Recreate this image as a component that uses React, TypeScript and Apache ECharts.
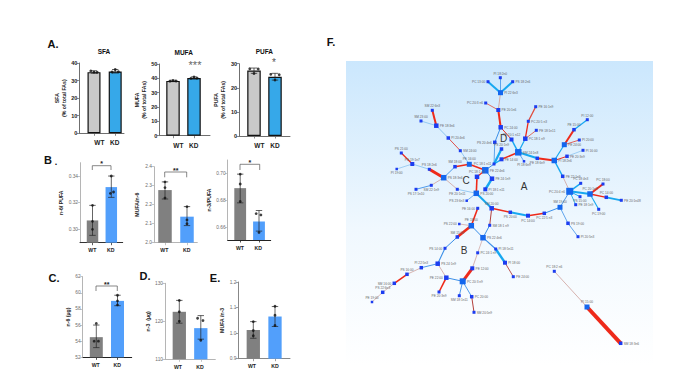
import React, { useEffect, useRef } from "react";
import * as echarts from "echarts";

const categories = ["WT", "KD"];

// ---- Bar panel values: [WT, KD]
const sfaMeans = [34.8, 35.2];
const sfaErrors = [[34.2, 35.6], [34.3, 36.3]];
const sfaPoints = [[0.85, 35.5], [1, 34.8], [1.15, 34.7], [1.85, 34.9], [2, 36.3], [2.15, 35]];
const sfaTicks = [0, 10, 20, 30, 40];

const mufaMeans = [38.2, 40.2];
const mufaErrors = [[37.7, 38.7], [39.6, 41]];
const mufaPoints = [[0.85, 38], [1, 38.5], [1.15, 38.1], [1.85, 40], [2, 41], [2.15, 40.1]];
const mufaTicks = [0, 10, 20, 30, 40, 50];

const pufaMeans = [27.2, 24.6];
const pufaErrors = [[26, 28.2], [23.2, 26]];
const pufaPoints = [[0.8, 27.9], [1, 25.9], [1.2, 27.8], [1.8, 25.6], [2, 23.2], [2.2, 25.4]];
const pufaTicks = [0, 10, 20, 30];

const n6PufaMeans = [0.3067, 0.3317];
const n6PufaErrors = [[0.2955, 0.318], [0.324, 0.34]];
const n6PufaPoints = [[1, 0.318], [1, 0.306], [1, 0.3], [2, 0.34], [1.95, 0.327], [2.12, 0.328]];
const n6PufaTicks = [0.3, 0.32, 0.34];

const mufaN6Means = [2.277, 2.137];
const mufaN6Errors = [[2.23, 2.32], [2.09, 2.19]];
const mufaN6Points = [[1, 2.32], [1, 2.29], [1, 2.235], [2, 2.19], [2, 2.12], [2, 2.1]];
const mufaN6Ticks = [2.0, 2.1, 2.2, 2.3, 2.4];

const n3PufaMeans = [0.6889, 0.6642];
const n3PufaErrors = [[0.678, 0.6993], [0.657, 0.6723]];
const n3PufaPoints = [[1, 0.6993], [1, 0.692], [1, 0.679], [1.85, 0.67], [2.1, 0.669], [2, 0.656]];
const n3PufaTicks = [0.66, 0.68, 0.7];

const n6Means = [54.5, 59];
const n6Errors = [[53.2, 56], [58.4, 59.7]];
const n6Points = [[0.9, 54], [1.1, 54], [1, 56.2], [2, 59.7], [2, 59], [2, 58.5]];
const n6Ticks = [52, 54, 56, 58, 60, 62];

const n3Means = [122.5, 118.2];
const n3Errors = [[119.5, 125.5], [115.3, 121.5]];
const n3Points = [[1, 125.5], [1, 122.5], [1, 120], [1.85, 120.8], [2.1, 120.2], [2, 115]];
const n3Ticks = [110, 120, 130];

const mufaN3Means = [1.012, 1.065];
const mufaN3Errors = [[0.98, 1.045], [1.026, 1.104]];
const mufaN3Points = [[1, 1.045], [1, 1.01], [1, 0.99], [2, 1.105], [2, 1.07], [2, 1.03]];
const mufaN3Ticks = [0.9, 1.0, 1.1, 1.2];

const FONT = '"Liberation Sans", Arial, sans-serif';

// ---- Network: [name, x, y, size, label position]
const networkNodes: [string, number, number, number, string][] = [
  ["PC 13:00", 488, 81.7, 3, "left"],
  ["PI 18:2n0", 500.3, 77.7, 3, "top"],
  ["PI 22:6n3", 500.5, 92.7, 5, "right"],
  ["PS 18:2n6", 512.7, 81.7, 3, "right"],
  ["PC 20:3 n6", 485.7, 103, 3, "left"],
  ["PE 20:1n6", 498.3, 110, 4, "right"],
  ["PC 24:00", 500.7, 127.3, 4.5, "right"],
  ["PS 20:4n6", 494.8, 142.3, 3.5, "left"],
  ["PS 20:1n9", 501.5, 149, 3.5, "top"],
  ["PE 20:1 n12", 511.5, 139.5, 4, "top"],
  ["PE 14:00", 501.5, 159.3, 4, "right"],
  ["PC 18:1 n11", 494, 164, 3, "left"],
  ["SM 22:6n3", 432.3, 110.3, 3, "top"],
  ["SM 23:00", 421, 121, 3, "top"],
  ["PE 18:3n6", 436.3, 125.7, 4.5, "right"],
  ["PI 20:4n6", 448.3, 138, 3.5, "right"],
  ["SM 24:00", 460.3, 150.7, 3, "right"],
  ["PE 16:00", 469.3, 164.3, 5, "top"],
  ["PS 21:00", 401.3, 153, 3, "top"],
  ["PE 19:1n7", 412.3, 164, 4, "top"],
  ["PE 16:1n9", 535.7, 106.7, 3, "right"],
  ["PC 20:5 n3", 528.3, 121.3, 3, "right"],
  ["PE 18:1n11", 536.3, 130.3, 3, "right"],
  ["PC 18:1 n9", 525.3, 138.7, 4.5, "right"],
  ["SM 24:1n8", 518.3, 152.3, 6.5, "right"],
  ["PI 18:6n9", 524, 161.3, 2.5, "bottom"],
  ["PE 18:6n9", 537.3, 158.3, 3.5, "bottom"],
  ["PI 18:2n6", 554.3, 160.5, 5.5, "right"],
  ["PE 24:00", 564.3, 144.7, 5, "right"],
  ["PE 15:00", 574, 129.7, 3.5, "top"],
  ["PI 12:00", 587.3, 119.7, 3, "top"],
  ["PI 20:00", 579.3, 140, 3, "right"],
  ["PI 16:00", 583, 150.3, 3, "right"],
  ["PE 20:3n9", 567, 156.3, 3.5, "right"],
  ["PI 19:00", 396.7, 169, 2.5, "bottom"],
  ["PS 18:2n6 ", 429.3, 169.3, 3, "top"],
  ["PS 18:3n6", 443.7, 177.7, 5.5, "right"],
  ["SM 18:00", 455, 166.7, 3.5, "top"],
  ["PC 18:1 n3", 477, 176.8, 4.5, "top"],
  ["PE 22:4n6", 485.3, 170.3, 6.5, "right"],
  ["PE 24:1n9", 492, 178.7, 4.5, "right"],
  ["PI 18:1 n11", 485.3, 189.3, 4, "right"],
  ["PS 20:00", 476.3, 193.3, 5.5, "right"],
  ["SM 22:1n9", 431.3, 185.3, 3, "bottom"],
  ["PS 17:1n10", 416, 189.3, 3, "bottom"],
  ["PE 20:1n11", 457.3, 189.3, 3, "bottom"],
  ["PS 23:6n3", 466.7, 200.7, 2.5, "left"],
  ["PE 16:00 ", 477.7, 208.3, 3, "left"],
  ["SM 20:00", 491.7, 208.3, 4.5, "top"],
  ["PE 18:00", 471.3, 225.7, 5.5, "top"],
  ["PS 22:00", 459.3, 224, 2.5, "left"],
  ["SM 18:1 n9", 489.7, 225.3, 3, "right"],
  ["PS 22:4n6", 483, 237.7, 5.5, "right"],
  ["SM 15:00", 457.3, 237, 3.5, "top"],
  ["PS 14:00", 445, 248.3, 3, "left"],
  ["PI 18:5n11", 495.7, 249, 3, "right"],
  ["PS 24:1n9", 437.7, 263.7, 4.5, "right"],
  ["PI 22:5n3", 421.3, 267.7, 3.5, "top"],
  ["PC 24:1 n9", 477.7, 252.8, 3, "right"],
  ["PE 12:00", 472.3, 268.3, 4, "right"],
  ["PS 20:00 ", 510.3, 212.3, 3.5, "bottom"],
  ["PC 14:00", 528, 215.7, 4, "bottom"],
  ["PC 22:5 n3", 544.3, 213.3, 3.5, "bottom"],
  ["SM 19:00", 560, 207.3, 5, "top"],
  ["PC 20:4 n6", 569.7, 191.3, 7, "left"],
  ["PE 22:1n9", 562.7, 176.3, 3.5, "right"],
  ["PC 18:4n3", 580.7, 183.3, 3, "top"],
  ["PC 18:00", 603, 184, 3, "top"],
  ["PC 20:1n9", 590, 194, 5.5, "top"],
  ["PC 14:00 ", 606.3, 197.3, 3.5, "top"],
  ["PE 20:1n48", 621.3, 200.3, 3, "right"],
  ["PS 15:00", 580, 196.7, 3, "bottom"],
  ["PE 18:1n9", 575.7, 204.7, 3, "right"],
  ["PC 19:00", 598.7, 209.3, 3, "bottom"],
  ["PS 19:00", 568, 223.3, 3.5, "right"],
  ["PI 20:5n3", 578, 236.7, 3, "right"],
  ["PI 18:00", 505, 262.7, 4, "right"],
  ["PE 24:00 ", 513.3, 276.7, 3, "right"],
  ["PE 19:00", 372, 302, 2.5, "top"],
  ["PS 22:6n3", 382.7, 292.3, 3.5, "top"],
  ["SM 16:00", 394.3, 283.3, 3.5, "left"],
  ["PS 16:00", 407, 274.3, 3.5, "top"],
  ["PE 22:00", 446.3, 277.7, 4.5, "left"],
  ["PE 20:3n9 ", 439, 292, 3, "bottom"],
  ["PC 20:3 n9", 462.7, 281.3, 6, "right"],
  ["SM 18:1n11", 459.3, 295.7, 3, "bottom"],
  ["PC 20:00", 471.7, 296.7, 3.5, "right"],
  ["SM 20:5n9", 474, 312.3, 3, "right"],
  ["PC 18:2 n6", 554.3, 271.3, 3, "top"],
  ["PI 15:00", 587, 307, 5, "top"],
  ["SM 18:3n6", 620.7, 343.3, 3.5, "right"],
];

const R = "#ee2a1a", C = "#17a8f0", B = "#3b8fe8", L = "#8cc4f0", P = "#d2aaa6", D = "#b3403c";

// ---- Network edges: [source, target, colour, width]
const networkLinks: [string, string, string, number][] = [
  ["PC 13:00", "PI 22:6n3", C, 2], ["PI 18:2n0", "PI 22:6n3", B, 0.8], ["PS 18:2n6", "PI 22:6n3", C, 2],
  ["PI 22:6n3", "PE 20:1n6", P, 1], ["PC 20:3 n6", "PE 20:1n6", "#e0604f", 0.9], ["PE 20:1n6", "PC 24:00", R, 2],
  ["PC 24:00", "PS 20:4n6", B, 1], ["PC 24:00", "PE 20:1 n12", R, 1], ["PS 20:4n6", "PC 18:1 n11", B, 0.8],
  ["PS 20:1n9", "PC 18:1 n11", C, 2.2], ["PE 14:00", "PC 18:1 n11", C, 1.4], ["PC 18:1 n11", "PE 22:4n6", B, 1],
  ["PE 14:00", "SM 24:1n8", R, 1.5], ["PE 20:1 n12", "SM 24:1n8", C, 1.5], ["SM 24:1n8", "PC 18:1 n9", C, 1.2],
  ["PC 18:1 n9", "PC 20:5 n3", R, 1.3], ["PC 20:5 n3", "PE 16:1n9", "#e04a3a", 1.3], ["PC 18:1 n9", "PE 18:1n11", "#e0604f", 0.9],
  ["SM 24:1n8", "PI 18:6n9", B, 0.8], ["SM 24:1n8", "PE 18:6n9", C, 2], ["PE 18:6n9", "PI 18:2n6", R, 2],
  ["PI 18:2n6", "PE 24:00", C, 1.2], ["PE 24:00", "PE 15:00", R, 2], ["PE 15:00", "PI 12:00", C, 1.3],
  ["PE 24:00", "PI 20:00", "#e0504a", 0.9], ["PI 18:2n6", "PE 20:3n9", R, 1], ["PE 20:3n9", "PI 16:00", L, 0.8],
  ["PI 18:2n6", "PE 22:1n9", C, 1.4], ["PE 22:1n9", "PC 20:4 n6", P, 0.9], ["PC 20:4 n6", "PC 18:4n3", C, 1.5],
  ["PC 20:4 n6", "PC 20:1n9", C, 2], ["PC 20:1n9", "PC 18:00", R, 2], ["PC 20:1n9", "PC 14:00 ", R, 1.3],
  ["PC 14:00 ", "PE 20:1n48", C, 1.8], ["PC 20:1n9", "PC 19:00", C, 1.1], ["PC 20:4 n6", "PS 15:00", C, 1],
  ["PC 20:4 n6", "PE 18:1n9", C, 0.9], ["PC 20:4 n6", "SM 19:00", B, 0.9], ["SM 19:00", "PC 22:5 n3", B, 1],
  ["PC 22:5 n3", "PC 14:00", R, 1.6], ["PC 14:00", "PS 20:00 ", C, 2], ["PS 20:00 ", "SM 20:00", R, 1.5],
  ["SM 19:00", "PS 19:00", B, 0.8], ["PS 19:00", "PI 20:5n3", B, 0.8],
  ["PE 22:4n6", "PE 24:1n9", B, 1], ["PE 24:1n9", "PI 18:1 n11", C, 2.5], ["PE 22:4n6", "PC 18:1 n3", R, 1.2],
  ["PC 18:1 n3", "PS 20:00", R, 1.6], ["PS 20:00", "SM 20:00", C, 2], ["PS 20:00", "PS 23:6n3", B, 0.7],
  ["PS 18:3n6", "SM 18:00", B, 0.9], ["SM 18:00", "PE 16:00", R, 1.5], ["PE 16:00", "PE 22:4n6", R, 1.5],
  ["PS 18:3n6", "PS 18:2n6 ", R, 3], ["PS 18:3n6", "SM 22:1n9", P, 0.9], ["SM 22:1n9", "PS 17:1n10", B, 0.9],
  ["PS 18:3n6", "PE 20:1n11", P, 0.9], ["PE 20:1n11", "PS 20:00", L, 0.9], ["SM 24:00", "PE 16:00", L, 0.9],
  ["PE 18:3n6", "SM 22:6n3", R, 2], ["PE 18:3n6", "SM 23:00", L, 0.9], ["PE 18:3n6", "PI 20:4n6", L, 1],
  ["PI 20:4n6", "SM 24:00", "#e0504a", 1], ["PE 19:1n7", "PS 21:00", R, 1.2], ["PE 19:1n7", "PS 18:2n6 ", L, 0.9],
  ["PE 19:1n7", "PI 19:00", L, 0.8],
  ["SM 20:00", "SM 18:1 n9", D, 1], ["SM 18:1 n9", "PS 22:4n6", B, 1], ["PS 22:4n6", "PE 18:00", B, 1],
  ["PE 18:00", "PE 16:00 ", R, 1.6], ["PE 18:00", "PS 22:00", P, 0.8], ["PE 18:00", "SM 15:00", R, 2.6],
  ["SM 15:00", "PS 14:00", B, 1], ["PS 14:00", "PS 24:1n9", B, 1.1], ["PS 22:4n6", "PI 18:5n11", B, 1.1],
  ["PI 18:5n11", "PI 18:00", C, 2.4], ["PI 18:00", "PE 24:00 ", D, 0.9], ["PS 22:4n6", "PC 24:1 n9", P, 0.8],
  ["PC 24:1 n9", "PE 12:00", P, 0.9], ["PS 24:1n9", "PI 22:5n3", B, 0.9], ["PI 22:5n3", "PS 16:00", P, 0.9],
  ["PS 16:00", "SM 16:00", R, 1.6], ["SM 16:00", "PS 22:6n3", P, 0.8], ["PS 22:6n3", "PE 19:00", P, 0.8],
  ["PS 24:1n9", "PE 22:00", P, 0.9], ["PE 22:00", "PE 20:3n9 ", R, 1.6], ["PE 22:00", "PC 20:3 n9", B, 1],
  ["PC 20:3 n9", "PE 12:00", R, 3], ["PC 20:3 n9", "SM 18:1n11", B, 0.9], ["PC 20:3 n9", "PC 20:00", B, 0.9],
  ["PC 20:00", "SM 20:5n9", D, 1], ["PC 18:2 n6", "PI 15:00", P, 0.9], ["PI 15:00", "SM 18:3n6", R, 4],
];

type Panel = {
  l: number; r: number; t: number; b: number; min: number; max: number; ticks: number[]; dec: number;
  c: number[]; labelX: number[]; barW: number; means: number[]; errors: number[][]; points: number[][];
  colors: string[]; border: boolean; axisColor: string; xColor: string; labelColor: string; labelSize: number;
  bold: boolean; name: string; gap: number; nameSize: number; nameColor: string; nameBold: boolean; margin: number; catSize: number;
};

const A = {
  colors: ["#c9c9c9", "#36a8e9"], border: true, axisColor: "#6f6f6f", xColor: "#6f6f6f", labelColor: "#222",
  labelSize: 5.5, bold: true, nameSize: 5.2, nameColor: "#222", nameBold: true, margin: 6, catSize: 6.5, dec: 0,
};
const S = {
  colors: ["#808080", "#529ffb"], border: false, labelColor: "#6e6e6e", labelSize: 4.8, bold: false,
  nameSize: 5.2, nameColor: "#222", nameBold: true, margin: 5, catSize: 5.2,
};

const panels: Panel[] = [
  { ...A, l: 79.3, r: 124, t: 63, b: 133.3, min: 0, max: 40, ticks: sfaTicks, c: [94, 115.2], labelX: [99.3, 114.7], barW: 13, means: sfaMeans, errors: sfaErrors, points: sfaPoints, name: "SFA\n(% of total FAs)", gap: 12 },
  { ...A, l: 159.3, r: 210, t: 64, b: 135.7, min: 0, max: 50, ticks: mufaTicks, c: [173, 194], labelX: [178.3, 193.7], barW: 13.5, means: mufaMeans, errors: mufaErrors, points: mufaPoints, name: "MUFA\n(% of total FAs)", gap: 12 },
  { ...A, l: 239, r: 290, t: 63.7, b: 136, min: 0, max: 30, ticks: pufaTicks, c: [254, 275], labelX: [259.3, 275], barW: 13.5, means: pufaMeans, errors: pufaErrors, points: pufaPoints, name: "PUFA\n(% of total FAs)", gap: 12 },
  { ...S, l: 80, r: 122.7, t: 162.7, b: 242.7, min: 0.29, max: 0.35, ticks: n6PufaTicks, dec: 2, c: [92.5, 111.3], labelX: [92.3, 110.7], barW: 11.5, means: n6PufaMeans, errors: n6PufaErrors, points: n6PufaPoints, axisColor: "#b5b5b5", xColor: "#333", name: "n-6/ PUFA", gap: 11 },
  { ...S, l: 154, r: 197.3, t: 166.7, b: 242.7, min: 2.0, max: 2.4, ticks: mufaN6Ticks, dec: 1, c: [165, 187], labelX: [164.3, 186.7], barW: 13.5, means: mufaN6Means, errors: mufaN6Errors, points: mufaN6Points, axisColor: "#b5b5b5", xColor: "#b5b5b5", name: "MUFA/n-6", gap: 14 },
  { ...S, l: 227.7, r: 270.7, t: 160, b: 240, min: 0.6504, max: 0.7098, ticks: n3PufaTicks, dec: 2, c: [240.2, 259], labelX: [240, 258.3], barW: 11.8, means: n3PufaMeans, errors: n3PufaErrors, points: n3PufaPoints, axisColor: "#b5b5b5", xColor: "#222", name: "n-3/PUFA", gap: 11, margin: 5 },
  { ...S, l: 82.7, r: 131.7, t: 276.7, b: 357.3, min: 52, max: 62, ticks: n6Ticks, dec: 0, c: [96.3, 117.5], labelX: [95.7, 117.3], barW: 13, means: n6Means, errors: n6Errors, points: n6Points, axisColor: "#b5b5b5", xColor: "#222", name: "n-6 (µg)", gap: 11 },
  { ...S, l: 165, r: 215.3, t: 283.3, b: 359.3, min: 110, max: 130, ticks: n3Ticks, dec: 0, c: [179.3, 200.8], labelX: [178, 200], barW: 13.3, means: n3Means, errors: n3Errors, points: n3Points, axisColor: "#b5b5b5", xColor: "#b5b5b5", name: "n-3  (µg)", gap: 13 },
  { ...S, l: 238.3, r: 290, t: 282, b: 358.7, min: 0.9, max: 1.2, ticks: mufaN3Ticks, dec: 1, c: [253.3, 275], labelX: [252, 275], barW: 13.3, means: mufaN3Means, errors: mufaN3Errors, points: mufaN3Points, axisColor: "#888", xColor: "#888", name: "MUFA /n-3", gap: 11 },
];

const text = (x: number, y: number, t: string, size: number, weight = "normal", fill = "#111", align = "center") => ({
  type: "text", x, y, z: 20,
  style: { text: t, fontSize: size, fontWeight: weight, fill, align, verticalAlign: "middle", fontFamily: FONT },
});

const bracket = (x1: number, x2: number, top: number, low: number, stars: string) => [
  { type: "polyline", z: 20, shape: { points: [[x1, low], [x1, top], [x2, top], [x2, low]] }, style: { stroke: "#555", fill: "none", lineWidth: 0.7 } },
  text((x1 + x2) / 2, top - 2, stars, 7, "bold", "#222"),
];

const decorations = [
  { type: "rect", z: -1, shape: { x: 346, y: 61, width: 307, height: 305 },
    style: { fill: new echarts.graphic.LinearGradient(0, 0, 0, 1, [{ offset: 0, color: "#cbe7fd" }, { offset: 0.55, color: "#f0f8fe" }, { offset: 1, color: "#ffffff" }]) } },
  text(53, 44, "A.", 11, "bold"),
  text(104, 51.7, "SFA", 6.5, "bold"),
  text(183.7, 52, "MUFA", 6.5, "bold"),
  text(264.3, 51.7, "PUFA", 6.5, "bold"),
  text(195, 65, "***", 11, "normal", "#666"),
  text(274, 62.5, "*", 10, "normal", "#555"),
  text(48, 160, "B", 11, "bold"),
  text(56, 162, ".", 9, "bold"),
  text(54, 278, "C.", 11, "bold"),
  text(145, 276, "D.", 11, "bold"),
  text(215, 278, "E.", 11, "bold"),
  text(331, 42, "F.", 11, "bold"),
  text(524, 186, "A", 10, "normal", "#333"),
  text(464, 250.3, "B", 10, "normal", "#333"),
  text(466, 180, "C", 10, "normal", "#333"),
  text(503.7, 138, "D", 10, "normal", "#333"),
  ...bracket(92.3, 111, 165.7, 170, "*"),
  ...bracket(164.7, 186.7, 172, 177.3, "**"),
  ...bracket(240, 259.7, 164.3, 170, "*"),
  ...bracket(96, 117.3, 286, 291, "**"),
];

function buildOption() {
  const grids: any[] = [], xAxes: any[] = [], yAxes: any[] = [], series: any[] = [];
  panels.forEach((p, i) => {
    const d = p.c[1] - p.c[0];
    const toX = (px: number) => 1 + (px - p.c[0]) / d;
    grids.push({ left: p.l, top: p.t, width: p.r - p.l, height: p.b - p.t, containLabel: false });
    xAxes.push({
      type: "value", gridIndex: i, min: toX(p.l), max: toX(p.r), splitLine: { show: false },
      axisLine: { show: true, onZero: false, lineStyle: { color: p.xColor, width: 1 } },
      axisTick: { show: true, length: 2.5, customValues: [1, 2], lineStyle: { color: p.xColor, width: 0.8 } },
      axisLabel: {
        show: true, customValues: [toX(p.labelX[0]), toX(p.labelX[1])], margin: p.margin, hideOverlap: false,
        formatter: (v: number) => (v < 1.5 ? categories[0] : categories[1]),
        fontSize: p.catSize, fontWeight: "bold", color: "#222", fontFamily: FONT,
      },
    });
    yAxes.push({
      type: "value", gridIndex: i, min: p.min, max: p.max, splitLine: { show: false },
      name: p.name, nameLocation: "middle", nameRotate: 90, nameGap: p.gap,
      nameTextStyle: { fontSize: p.nameSize, fontWeight: p.nameBold ? "bold" : "normal", color: p.nameColor, fontFamily: FONT, lineHeight: 7 },
      axisLine: { show: true, onZero: false, lineStyle: { color: p.axisColor, width: 1 } },
      axisTick: { show: true, length: 2.5, customValues: p.ticks, lineStyle: { color: p.axisColor, width: 0.8 } },
      axisLabel: {
        show: true, customValues: p.ticks, margin: 2, hideOverlap: false,
        formatter: (v: number) => v.toFixed(p.dec),
        fontSize: p.labelSize, fontWeight: p.bold ? "bold" : "normal", color: p.labelColor, fontFamily: FONT,
      },
    });
    series.push({
      type: "bar", xAxisIndex: i, yAxisIndex: i, barWidth: p.barW, barGap: "-100%", silent: true, z: 2,
      data: p.means.map((v, k) => ({
        value: [k + 1, v],
        itemStyle: { color: p.colors[k], borderColor: p.border ? "#111" : p.colors[k], borderWidth: p.border ? 1.2 : 0 },
      })),
    });
    series.push({
      type: "custom", xAxisIndex: i, yAxisIndex: i, silent: true, z: 3, clip: false,
      data: p.errors.map((e, k) => [k + 1, e[0], e[1]]),
      encode: { x: 0, y: [1, 2] },
      renderItem: (_: any, api: any) => {
        const lo = api.coord([api.value(0), api.value(1)]);
        const hi = api.coord([api.value(0), api.value(2)]);
        const cap = 3.2;
        const st = { stroke: "#222", lineWidth: 0.7 };
        return {
          type: "group",
          children: [
            { type: "line", shape: { x1: lo[0], y1: lo[1], x2: hi[0], y2: hi[1] }, style: st },
            { type: "line", shape: { x1: lo[0] - cap, y1: lo[1], x2: lo[0] + cap, y2: lo[1] }, style: st },
            { type: "line", shape: { x1: hi[0] - cap, y1: hi[1], x2: hi[0] + cap, y2: hi[1] }, style: st },
          ],
        };
      },
    });
    series.push({
      type: "scatter", xAxisIndex: i, yAxisIndex: i, silent: true, z: 4, symbolSize: 2.8, clip: false,
      itemStyle: { color: "#111" }, data: p.points,
    });
  });

  const netIndex = panels.length;
  grids.push({ left: 346, top: 61, width: 307, height: 305 });
  xAxes.push({ type: "value", gridIndex: netIndex, min: 346, max: 653, show: false });
  yAxes.push({ type: "value", gridIndex: netIndex, min: 61, max: 366, inverse: true, show: false });
  series.push({
    type: "graph", coordinateSystem: "cartesian2d", xAxisIndex: netIndex, yAxisIndex: netIndex, layout: "none",
    silent: true, roam: false, z: 5, symbol: "rect",
    data: networkNodes.map(([name, x, y, size, pos]) => ({
      name, value: [x, y], symbolSize: size,
      itemStyle: { color: size >= 5 ? "#1467ee" : "#1c3df0" },
      label: { show: true, position: pos, distance: 1.2, formatter: name.trim(), fontSize: 3.2, color: "#666", fontFamily: FONT },
    })),
    links: networkLinks.map(([source, target, color, width]) => ({
      source, target, lineStyle: { color, width, opacity: 1, curveness: 0 },
    })),
  });

  return { animation: false, backgroundColor: "#ffffff", grid: grids, xAxis: xAxes, yAxis: yAxes, series, graphic: { elements: decorations } };
}

export default function App() {
  const ref = useRef<HTMLDivElement>(null);
  useEffect(() => {
    const chart = echarts.init(ref.current!, undefined, { renderer: "svg" });
    chart.setOption(buildOption() as any);
    return () => chart.dispose();
  }, []);
  return <div ref={ref} style={{ position: "fixed", left: 0, top: 0, width: 685, height: 385 }} />;
}
